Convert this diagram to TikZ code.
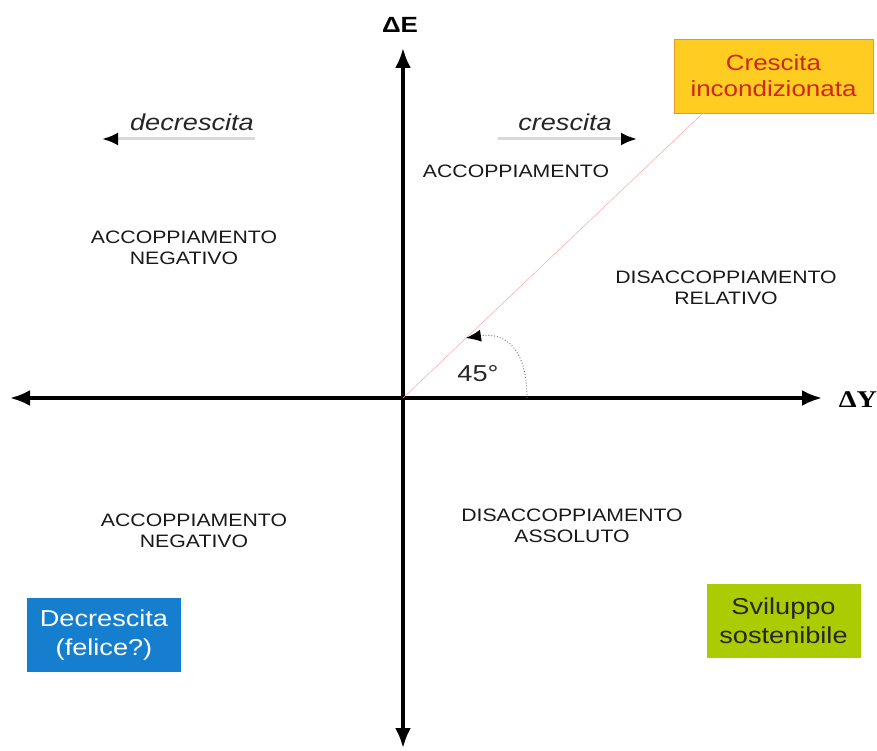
\documentclass[tikz,border=0pt]{standalone}
\usepackage{fontspec}
\setmainfont{Liberation Sans}[FakeStretch=1.18]
\newfontfamily\serifY{Liberation Serif}[FakeStretch=1.18]
\usepackage{tikz}
\usetikzlibrary{arrows.meta}

\definecolor{boxyellow}{RGB}{255,204,34}
\definecolor{boxorange}{RGB}{232,150,40}
\definecolor{boxred}{RGB}{204,40,20}
\definecolor{boxblue}{RGB}{22,126,206}
\definecolor{boxgreen}{RGB}{170,204,0}

\begin{document}
\begin{tikzpicture}[x=1pt,y=-1pt,
    axis/.style={line width=3.5pt,{Latex[length=20pt,width=16pt]}-{Latex[length=20pt,width=16pt]}},
    quad/.style={align=center,text=black!90,font=\fontsize{18}{21}\selectfont},
    trend/.style={line width=3pt,black!15,-{Latex[length=16pt,width=13pt,color=black]}},
    trendlabel/.style={text=black!85,font=\fontsize{23}{27}\selectfont\itshape},
    scenario/.style={align=center,inner sep=0pt,minimum width=154pt,minimum height=74pt,
      font=\fontsize{23}{29}\selectfont}]
    \useasboundingbox (0,0) rectangle (877,751);

    % Axes
    \coordinate (O) at (403,398);
    \coordinate (yl) at (10,398);
    \coordinate (yr) at (822,398);
    \coordinate (et) at (403,48);
    \coordinate (eb) at (403,748);
    \draw[axis] (yl) -- (yr);
    \draw[axis] (eb) -- (et);
    \node[font=\bfseries\fontsize{22}{26}\selectfont] (dE) at (400,25) {ΔE};
    \node[font=\serifY\bfseries\fontsize{24}{28}\selectfont] (dY) at (858,400) {ΔY};

    % Scenarios
    \node[scenario,fill=boxyellow,draw=boxorange,text=boxred,minimum width=199pt,
      font=\fontsize{22}{26}\selectfont] (cresc) at (773.5,76) {Crescita\\incondizionata};
    \node[scenario,fill=boxblue,text=white] (decr) at (104,635) {Decrescita\\(felice?)};
    \node[scenario,fill=boxgreen,text=black!85] (svil) at (783.5,621) {Sviluppo\\sostenibile};

    % 45 degree line
    \draw[red!35,line width=0.5pt] (O) -- ([xshift=29pt]cresc.south west);
    \coordinate (a0) at (527,398);
    \coordinate (a1) at (466,338);
    \draw[black!60,dotted,line width=0.9pt,-{Latex[length=15pt,width=12pt,color=black]}]
      (a0) .. controls (527,348) and (505,332) .. (a1);
    \node[font=\fontsize{23}{27}\selectfont,text=black!85] (ang) at (478,374) {45°};

    % Growth directions
    \coordinate (cr0) at (498,139);
    \coordinate (cr1) at (637,139);
    \draw[trend] (cr0) -- (cr1);
    \node[trendlabel] (cr) at (565,122) {crescita};
    \coordinate (dc0) at (255,139);
    \coordinate (dc1) at (102,139);
    \draw[trend] (dc0) -- (dc1);
    \node[trendlabel] (dc) at (192,122) {decrescita};

    % Quadrants
    \node[quad] (q1) at (516,171) {ACCOPPIAMENTO};
    \node[quad] (q2) at (184,248) {ACCOPPIAMENTO\\NEGATIVO};
    \node[quad] (q3) at (726,288) {DISACCOPPIAMENTO\\RELATIVO};
    \node[quad] (q4) at (194,531) {ACCOPPIAMENTO\\NEGATIVO};
    \node[quad] (q5) at (572,526) {DISACCOPPIAMENTO\\ASSOLUTO};
  \end{tikzpicture}
\end{document}
